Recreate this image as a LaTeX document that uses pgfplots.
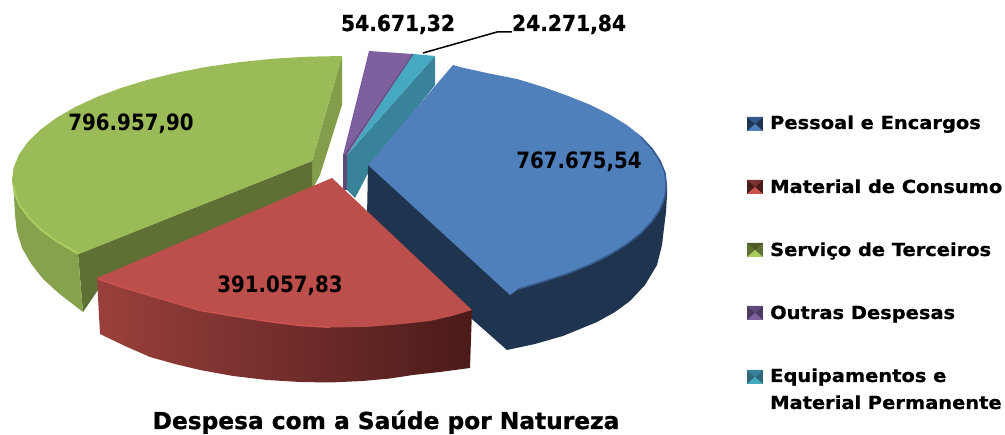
\documentclass[border=0pt]{standalone}
\usepackage{fontspec}
\setmainfont{DejaVu Sans}
\newfontfamily\dvb[FakeStretch=.88]{DejaVu Sans Bold}
\newfontfamily\dvtop[FakeStretch=.92,FakeBold=.7]{DejaVu Sans Bold}
\newfontfamily\dvleg[FakeStretch=1.08,FakeBold=.7]{DejaVu Sans Bold}
\newfontfamily\dvtit[FakeStretch=1.0,FakeBold=1]{DejaVu Sans Bold}
\usepackage{pgfplots}
\pgfplotsset{compat=1.18}
\definecolor{gTop}{HTML}{9BBB59}
\definecolor{gRim}{HTML}{A9CC5F}
\definecolor{gWall}{HTML}{86A24C}
\definecolor{gCut}{HTML}{839E4B}
\definecolor{gDark}{HTML}{5F7034}
\definecolor{rTop}{HTML}{BC4E4B}
\definecolor{rRim}{HTML}{CB5450}
\definecolor{rA}{HTML}{9A403C}
\definecolor{rB}{HTML}{7A3230}
\definecolor{rC}{HTML}{4B1B1A}
\definecolor{bTop}{HTML}{4F80BC}
\definecolor{bDark}{HTML}{1F344F}
\definecolor{bEdge}{HTML}{35598A}
\definecolor{tTop}{HTML}{47A8C2}
\definecolor{tWall}{HTML}{39839A}
\definecolor{pTop}{HTML}{7E609F}
\definecolor{pDark}{HTML}{5F4979}
\begin{document}
\begin{tikzpicture}
\path[use as bounding box] (0,0) rectangle (1005pt,435pt);
\begin{axis}[at={(0,0)},anchor=south west,scale only axis,width=1005pt,height=435pt,
  xmin=0,xmax=1005,ymin=0,ymax=435,y dir=reverse,hide axis,clip=false,no markers]
% green
\addplot[fill=gCut,draw=none] coordinates {(342,56)(342,105)(320,175)(312,190)(312,161)};
\addplot[fill=gDark,draw=none] coordinates {(78,254)(312,161)(312,200)(98,290)(83,312)};
\addplot[fill=gWall,draw=none] coordinates {(12,180)(13.8,193)(15,215)(16.8,231)(22,248)(31,263.5)(43,279)(59,293.5)(83,312)(78,254.4)(56.2,242)(40.5,230.4)(28.1,218.3)(19.2,205.8)(13.8,193)};
\addplot[fill=gTop,draw=none] coordinates {(342,56)(307.5,56.7)(273.4,58.7)(240,62.1)(207.8,66.7)(177,72.6)(148,79.7)(121.2,87.9)(96.8,97)(75,107.1)(56.2,118)(40.5,129.6)(28.1,141.7)(19.2,154.2)(13.8,167)(12,180)(13.8,193)(19.2,205.8)(28.1,218.3)(40.5,230.4)(56.2,242)(78,254.4)(312,161)};
\addplot[draw=gRim,line width=1.8pt] coordinates {(13.8,186)(15,194)(20,205.5)(29,217.7)(41,229.7)(57,241.3)(78,253.4)};
% teal and purple
\addplot[fill=pDark,draw=none] coordinates {(343,155)(347,155)(347,190)(343,190)};
\addplot[fill=tWall,draw=none] coordinates {(347,155)(435,56)(435,85)(375,160)(355,198)(347,190)};
\addplot[fill=tTop,draw=none] coordinates {(347,155)(413,54)(435,56)};
\addplot[fill=pTop,draw=none] coordinates {(343,155)(369,51)(413,54)(347,155)};
\addplot[draw=pDark,line width=1pt] coordinates {(345,155)(413,54)};
% blue
\addplot[fill=bDark,draw=none] coordinates {(368,165)(367,218)(473,320)(507,350)(535,344)(563,336)(597,322)(615,312)(630,301)(645,285)(657,265)(662,245)(664,228)(666,212)(667,195)(667,185)};
\addplot[fill=bTop,draw=none] coordinates {(453,65)(459.7,67)(489,73.5)(517,79)(543.3,87)(567.7,95.8)(589.9,104.7)(609.7,114.5)(626.8,125)(641,136.2)(652.3,147.9)(660.4,160)(665.4,172.5)(667,185)(665.4,197.5)(660.4,210)(652.3,222)(641,233.8)(626.4,245)(609.7,255.5)(589.9,265.3)(567.7,274.2)(543.3,282.1)(517,290)(510,295)(368,165)};
\addplot[draw=bEdge,line width=1.4pt] coordinates {(641,137)(652,149)(660,161)(665,173)(666.3,185)(664.9,197)(659.9,209.6)(651.8,221.6)(640.6,233.3)(626.4,244.5)(609.3,255)(589.5,264.8)(567.3,273.7)(543,281.6)(517,289.5)};
% red
\addplot[left color=rA,middle color=rB,right color=rC,draw=none] coordinates {(97,278)(100,334)(125,346)(150,357)(175,364)(200,370)(233,376)(267,380)(300,382)(330,382.5)(363,381)(390,378.5)(413,375)(440,372)(470,368)(472,310)(300,300)};
\addplot[fill=rTop,draw=none] coordinates {(332,178)(472,310)(452,316)(430,321)(400,324.3)(363,327.2)(330,327.3)(300,325.3)(267,321)(233,315.6)(200,310)(175,302.4)(150,295)(120,286)(97,278)};
\addplot[draw=rRim,line width=1.5pt] coordinates {(98,279)(120,286.5)(150,295.5)(175,302.9)(200,310.4)(233,316)(267,321.3)(300,325.5)(330,327.3)};
% leader
\addplot[draw=black,line width=1.5pt] coordinates {(423,53)(497,32)(512,32)};
% legend swatches: blue, red, green, purple, teal
\addplot[fill=bDark,draw=none] coordinates {(747,117)(763,117)(763,131)(747,131)};
\addplot[fill=bEdge,draw=none] coordinates {(747,117)(763,117)(755,124)};
\addplot[fill=bTop,draw=none] coordinates {(747,131)(763,131)(755,124)};
\addplot[fill=rC,draw=none] coordinates {(747,180)(763,180)(763,194)(747,194)};
\addplot[fill=rB,draw=none] coordinates {(747,180)(763,180)(755,187)};
\addplot[fill=rRim,draw=none] coordinates {(747,194)(763,194)(755,187)};
\addplot[fill=gDark,draw=none] coordinates {(747,243)(763,243)(763,257)(747,257)};
\addplot[fill=gDark!80!black,draw=none] coordinates {(747,243)(763,243)(755,250)};
\addplot[fill=gRim,draw=none] coordinates {(747,257)(763,257)(755,250)};
\addplot[fill=pDark!80!black,draw=none] coordinates {(747,306)(763,306)(763,320)(747,320)};
\addplot[fill=pDark,draw=none] coordinates {(747,306)(763,306)(755,313)};
\addplot[fill=pTop,draw=none] coordinates {(747,320)(763,320)(755,313)};
\addplot[fill=tWall!80!black,draw=none] coordinates {(747,370)(763,370)(763,384)(747,384)};
\addplot[fill=tWall,draw=none] coordinates {(747,370)(763,370)(755,377)};
\addplot[fill=tTop,draw=none] coordinates {(747,384)(763,384)(755,377)};
% texts
\tikzset{lab/.style={font=\fontsize{22.5}{24}\dvb,text=black,inner sep=0pt,anchor=base}}
\tikzset{top/.style={font=\fontsize{22}{24}\dvtop,text=black,inner sep=0pt,anchor=base}}
\tikzset{leg/.style={font=\fontsize{18}{24}\dvleg,text=black,inner sep=0pt,anchor=base west}}
\node[lab] at (axis cs:131,131) {796.957,90};
\node[lab] at (axis cs:579,169) {767.675,54};
\node[lab] at (axis cs:280,293) {391.057,83};
\node[top] at (axis cs:398,31) {54.671,32};
\node[top] at (axis cs:569,31) {24.271,84};
\node[leg] at (axis cs:770,129) {Pessoal e Encargos};
\node[leg] at (axis cs:770,193) {Material de Consumo};
\node[leg] at (axis cs:770,256) {Serviço de Terceiros};
\node[leg] at (axis cs:770,319) {Outras Despesas};
\node[leg] at (axis cs:770,382) {Equipamentos e};
\node[leg] at (axis cs:770,409) {Material Permanente};
\node[font=\fontsize{23.3}{26}\dvtit,text=black,inner sep=0pt,anchor=base] at (axis cs:386,429) {Despesa com a Saúde por Natureza};
\end{axis}
\end{tikzpicture}
\end{document}
